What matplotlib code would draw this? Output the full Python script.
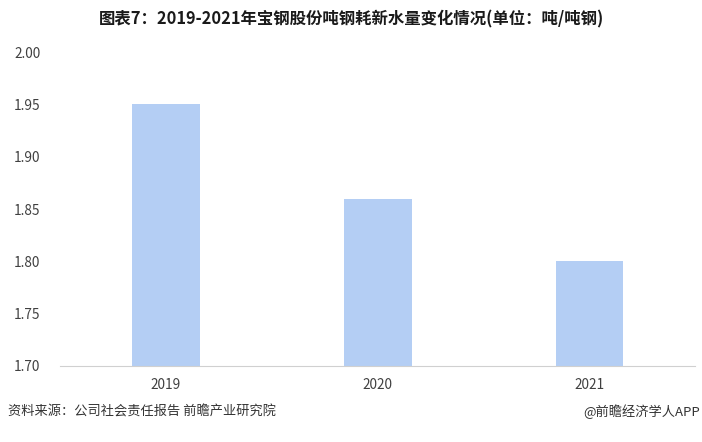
import matplotlib
matplotlib.use("Agg")
import matplotlib.pyplot as plt

plt.rcParams['font.family'] = ['Noto Sans CJK SC', 'DejaVu Sans']

years = ['2019', '2020', '2021']
water = [1.95, 1.86, 1.80]
yticks = [1.70, 1.75, 1.80, 1.85, 1.90, 1.95, 2.00]

title = '图表7：2019-2021年宝钢股份吨钢耗新水量变化情况(单位：吨/吨钢)'
source = '资料来源：公司社会责任报告 前瞻产业研究院'
brand = '@前瞻经济学人APP'

fig = plt.figure(figsize=(7.02, 4.42), dpi=100)
ax = fig.add_axes([0.0855, 0.172, 0.905, 0.71])

ax.bar(years, water, width=0.32, color='#B4CEF4', zorder=2)
ax.set_ylim(1.70, 2.00)
ax.set_xlim(-0.5, 2.5)
ax.set_yticks(yticks)
ax.set_yticklabels([f'{v:.2f}' for v in yticks])

for s in ['top', 'right', 'left']:
    ax.spines[s].set_visible(False)
ax.spines['bottom'].set_color('#d0d0d0')
ax.tick_params(axis='both', length=0, labelsize=9.8, colors='#404040')
ax.tick_params(axis='x', pad=9)
ax.tick_params(axis='y', pad=14)

fig.text(0.5, 0.955, title, ha='center', va='center', fontsize=11.8,
         fontweight='bold', color='#1a1a1a')
fig.text(0.011, 0.068, source, ha='left', va='center', fontsize=9.5, color='#333333')
fig.text(0.997, 0.068, brand, ha='right', va='center', fontsize=9.5, color='#333333')

fig.savefig('out.png', dpi=100)
